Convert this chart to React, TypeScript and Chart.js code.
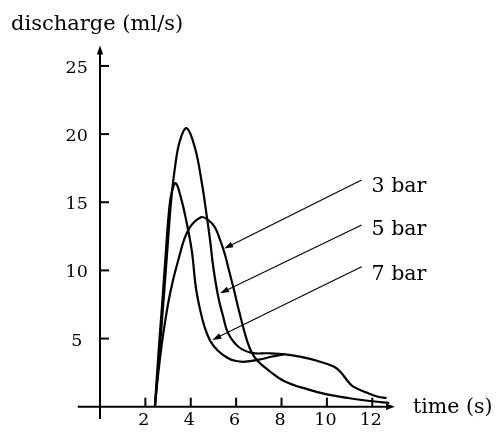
import React, { useEffect, useRef } from "react";
import { Chart, registerables } from "chart.js";

Chart.register(...registerables);

// ---- data (time in s, discharge in ml/s) ----
const bar3Time = [2.42, 2.56, 2.78, 3.09, 3.45, 3.89, 4.45, 4.8, 5.07, 5.3, 5.5, 5.7, 5.9, 6.1, 6.3, 6.48, 6.68, 6.95, 7.4, 8.15, 9.2, 10.0, 11.0, 12.0, 12.75];
const bar3Flow = [0, 2.33, 5.26, 8.32, 10.76, 12.96, 13.9, 13.65, 13.15, 12.2, 11.2, 9.9, 8.6, 7.2, 5.9, 4.85, 4.0, 3.35, 2.7, 1.85, 1.25, 0.9, 0.62, 0.4, 0.27];

const bar5Time = [2.42, 2.62, 2.81, 2.99, 3.13, 3.3, 3.52, 3.82, 4.19, 4.48, 4.7, 4.85, 4.99, 5.21, 5.43, 5.65, 6.1, 6.69, 7.42, 8.15, 8.81, 9.6, 10.3, 10.6, 10.94, 11.16, 11.75, 12.25, 12.63];
const bar5Flow = [0, 4.0, 8.0, 12.0, 15.0, 17.5, 19.5, 20.43, 18.96, 16.5, 14.06, 12.23, 10.27, 8.07, 6.6, 5.39, 4.4, 3.95, 3.92, 3.84, 3.67, 3.35, 2.95, 2.55, 1.83, 1.47, 1.04, 0.73, 0.64];

const bar7Time = [2.42, 2.58, 2.76, 2.93, 3.05, 3.17, 3.34, 3.57, 3.75, 4.04, 4.22, 4.4, 4.6, 4.85, 5.2, 5.65, 6.0, 6.4, 7.0, 7.6, 8.1];
const bar7Flow = [0, 4.0, 8.0, 12.0, 14.5, 15.8, 16.4, 15.3, 14.06, 11.5, 8.8, 7.2, 5.9, 4.85, 4.1, 3.55, 3.35, 3.3, 3.45, 3.68, 3.84];

const xTickValues = [2, 4, 6, 8, 10, 12];
const yTickValues = [5, 10, 15, 20, 25];
const seriesNames = ["3 bar", "5 bar", "7 bar"];
const yTitle = "discharge (ml/s)";
const xTitle = "time (s)";

// annotation anchors, in data units (time, discharge)
const leaderTipTime = [5.47, 5.29, 4.95];
const leaderTipFlow = [11.6, 8.32, 4.9];
const leaderStartTime = [11.53, 11.53, 11.53];
const leaderStartFlow = [16.63, 13.33, 10.27];
const labelTime = [11.97, 11.97, 11.97];
const labelFlow = [15.77, 12.6, 9.3];

const X_MIN = -1;
const X_MAX = 14;
const Y_MIN = -1;
const Y_MAX = 27;

function arrowHead(ctx: CanvasRenderingContext2D, tx: number, ty: number, fx: number, fy: number, len: number, half: number) {
  const ang = Math.atan2(ty - fy, tx - fx);
  const bx = tx - Math.cos(ang) * len;
  const by = ty - Math.sin(ang) * len;
  const nx = -Math.sin(ang) * half;
  const ny = Math.cos(ang) * half;
  ctx.beginPath();
  ctx.moveTo(tx, ty);
  ctx.lineTo(bx + nx, by + ny);
  ctx.lineTo(bx - nx, by - ny);
  ctx.closePath();
  ctx.fill();
}

const axesPlugin = {
  id: "sketchAxes",
  afterDraw(chart: any) {
    const ctx: CanvasRenderingContext2D = chart.ctx;
    const xs = chart.scales.x;
    const ys = chart.scales.y;
    const px = (t: number) => xs.getPixelForValue(t);
    const py = (v: number) => ys.getPixelForValue(v);
    const x0 = px(0);
    const y0 = py(0);
    ctx.save();
    ctx.strokeStyle = "#000";
    ctx.fillStyle = "#000";
    ctx.lineCap = "butt";

    // x axis
    ctx.lineWidth = 2;
    const xTip = px(13.0);
    ctx.beginPath();
    ctx.moveTo(px(-0.98), y0);
    ctx.lineTo(xTip - 6, y0);
    ctx.stroke();
    arrowHead(ctx, xTip, y0, xTip - 10, y0, 9, 3.2);

    // y axis
    const yTip = py(26.5);
    ctx.beginPath();
    ctx.moveTo(x0, py(-0.9));
    ctx.lineTo(x0, yTip + 6);
    ctx.stroke();
    arrowHead(ctx, x0, yTip, x0, yTip + 10, 9, 3.2);

    // ticks
    ctx.lineWidth = 2;
    for (const t of xTickValues) {
      ctx.beginPath();
      ctx.moveTo(px(t), y0);
      ctx.lineTo(px(t), y0 - 9);
      ctx.stroke();
    }
    for (const v of yTickValues) {
      ctx.beginPath();
      ctx.moveTo(x0, py(v));
      ctx.lineTo(x0 + 9, py(v));
      ctx.stroke();
    }

    // tick labels
    ctx.font = "17.5px 'DejaVu Serif'";
    ctx.textBaseline = "alphabetic";
    ctx.textAlign = "center";
    for (const t of xTickValues) {
      ctx.fillText(String(t), px(t) - 1.5, y0 + 18.5);
    }
    for (const v of yTickValues) {
      ctx.fillText(String(v), x0 - 23.3, py(v) + 7);
    }

    // titles
    ctx.textAlign = "left";
    ctx.font = "21px 'DejaVu Serif'";
    ctx.fillText(yTitle, 11, 29.5);
    ctx.font = "20.5px 'DejaVu Serif'";
    ctx.fillText(xTitle, 413, 413);

    // series labels with leaders
    ctx.lineWidth = 1.1;
    for (let i = 0; i < seriesNames.length; i++) {
      const sx = px(leaderStartTime[i]);
      const sy = py(leaderStartFlow[i]);
      const tx = px(leaderTipTime[i]);
      const ty = py(leaderTipFlow[i]);
      const ang = Math.atan2(ty - sy, tx - sx);
      ctx.beginPath();
      ctx.moveTo(sx, sy);
      ctx.lineTo(tx - Math.cos(ang) * 6, ty - Math.sin(ang) * 6);
      ctx.stroke();
      arrowHead(ctx, tx, ty, sx, sy, 9, 3);
      ctx.fillText(seriesNames[i], px(labelTime[i]), py(labelFlow[i]));
    }
    ctx.restore();
  },
};

function toPoints(ts: number[], vs: number[]) {
  return ts.map((t, i) => ({ x: t, y: vs[i] }));
}

export default function App() {
  const ref = useRef<HTMLCanvasElement | null>(null);
  useEffect(() => {
    if (!ref.current) return;
    const pxPerSec = 22.69;
    const pxPerUnit = 13.63;
    const left = 100 - pxPerSec * (0 - X_MIN);
    const right = 497 - left - pxPerSec * (X_MAX - X_MIN);
    const top = 406.7 - pxPerUnit * (Y_MAX - 0);
    const bottom = 442 - top - pxPerUnit * (Y_MAX - Y_MIN);
    const common = {
      borderColor: "#000",
      borderWidth: 2.2,
      pointRadius: 0,
      fill: false,
      tension: 0.4,
      clip: false as any,
    };
    const chart = new Chart(ref.current, {
      type: "line",
      data: {
        datasets: [
          { label: seriesNames[0], data: toPoints(bar3Time, bar3Flow), ...common },
          { label: seriesNames[1], data: toPoints(bar5Time, bar5Flow), ...common },
          { label: seriesNames[2], data: toPoints(bar7Time, bar7Flow), ...common },
        ],
      },
      options: {
        responsive: false,
        animation: false,
        layout: { padding: { left, right, top, bottom } },
        plugins: { legend: { display: false }, tooltip: { enabled: false } },
        scales: {
          x: { type: "linear", min: X_MIN, max: X_MAX, display: false },
          y: { type: "linear", min: Y_MIN, max: Y_MAX, display: false },
        },
      },
      plugins: [axesPlugin],
    });
    return () => chart.destroy();
  }, []);
  return (
    <div style={{ position: "absolute", left: 0, top: 0, width: 497, height: 442, background: "#fff" }}>
      <canvas ref={ref} width={497} height={442} style={{ width: 497, height: 442, display: "block" }} />
    </div>
  );
}
